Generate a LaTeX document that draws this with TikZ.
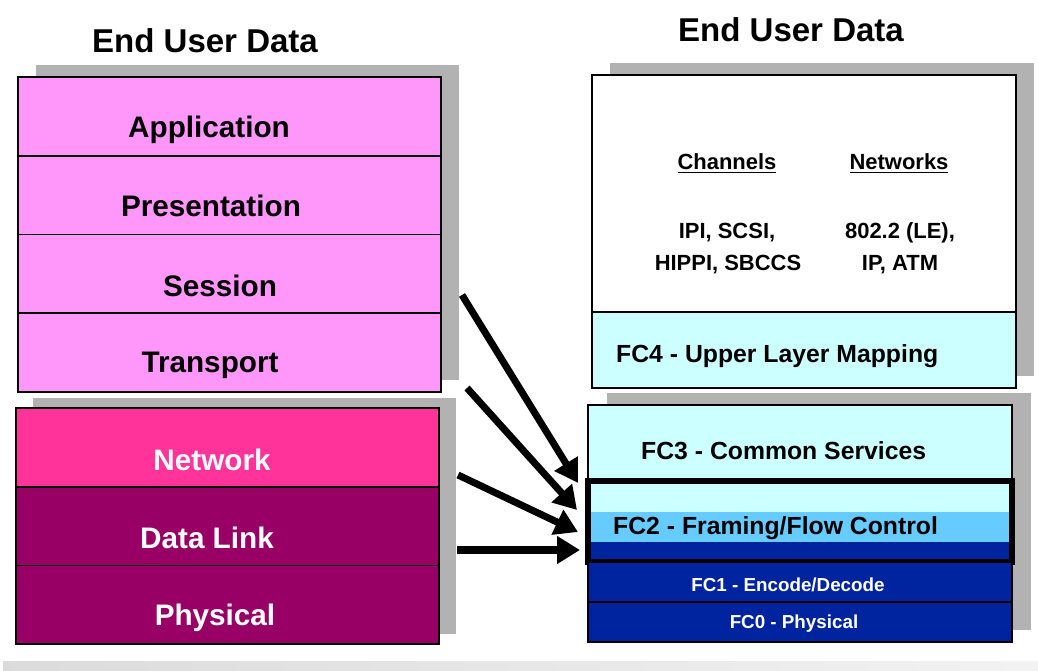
\documentclass[tikz,border=0pt]{standalone}
\usepackage{fontspec}
\setmainfont{Liberation Sans}
\usetikzlibrary{positioning,arrows.meta,backgrounds}

\definecolor{osipink}{RGB}{255,150,250}
\definecolor{netpink}{RGB}{255,51,153}
\definecolor{osiplum}{RGB}{153,0,102}
\definecolor{fccyan}{RGB}{204,255,255}
\definecolor{fcsky}{RGB}{102,204,255}
\definecolor{fcnavy}{RGB}{0,36,160}
\definecolor{shadowgrey}{RGB}{178,178,178}

\tikzset{
  layer/.style={draw, line width=1pt, fill=#1, inner sep=0pt, outer sep=0pt},
  osibox/.style={layer=#1, minimum width=8.46cm, minimum height=1.575cm},
  fcbox/.style={layer=#1, minimum width=8.48cm},
  title/.style={anchor=base, font=\fontsize{18.8}{22}\selectfont\bfseries},
  ositxt/.style={anchor=base, font=\fontsize{16.9}{20}\selectfont\bfseries},
  fctxt/.style={anchor=base west, font=\fontsize{14.1}{17}\selectfont\bfseries},
  fcsmall/.style={anchor=base, text=white, font=\fontsize{10.7}{13}\selectfont\bfseries},
  ulptxt/.style={anchor=base, font=\fontsize{12.5}{15}\selectfont\bfseries},
  fat/.style={line width=4pt, -{Triangle[length=13pt,width=15pt]}},
}

\begin{document}
\begin{tikzpicture}[x=0.02cm, y=-0.02cm]
  \useasboundingbox (0,0) rectangle (1038,671);

  % titles
  \node[title] (ltitle) at (205,53) {End User Data};
  \node[title] (rtitle) at (791,42) {End User Data};

  % OSI upper layers
  \node[osibox=osipink, anchor=north west] (app) at (18,77) {};
  \node[osibox=osipink, below=0pt of app] (pres) {};
  \node[osibox=osipink, below=0pt of pres] (sess) {};
  \node[osibox=osipink, below=0pt of sess] (trans) {};

  % OSI lower layers
  \node[osibox=netpink, anchor=north west] (net) at (16,408) {};
  \node[osibox=osiplum, below=0pt of net] (dlink) {};
  \node[osibox=osiplum, below=0pt of dlink] (phys) {};

  \node[ositxt] (appt) at (209,138) {Application};
  \node[ositxt] (prest) at (211,217) {Presentation};
  \node[ositxt] (sesst) at (220,297) {Session};
  \node[ositxt] (transt) at (210,373) {Transport};
  \node[ositxt, text=white] (nett) at (212,471) {Network};
  \node[ositxt, text=white] (dlinkt) at (207,549) {Data Link};
  \node[ositxt, text=white] (physt) at (215,626) {Physical};

  % Fibre Channel levels
  \node[fcbox=white, minimum height=4.74cm, anchor=north west] (ulp) at (592,75) {};
  \node[fcbox=fccyan, minimum height=1.52cm, below=0pt of ulp] (fc4) {};

  \node[fcbox=fccyan, minimum height=1.52cm, anchor=north west] (fc3) at (588,405) {};
  \node[fcbox=fccyan, line width=3.6pt, minimum height=1.62cm, below=0pt of fc3,
        path picture={
          \fill[fcsky] ([yshift=0.4cm]path picture bounding box.south west)
            rectangle ([yshift=1cm]path picture bounding box.south east);
          \fill[fcnavy] (path picture bounding box.south west)
            rectangle ([yshift=0.4cm]path picture bounding box.south east);
        }] (fc2) {};
  \node[fcbox=fcnavy, minimum height=0.8cm, below=0pt of fc2] (fc1) {};
  \node[fcbox=fcnavy, minimum height=0.8cm, below=0pt of fc1] (fc0) {};

  \node[ulptxt] (chan) at (727,170) {\underline{Channels}};
  \node[ulptxt] (nets) at (899,170) {\underline{Networks}};
  \node[ulptxt] (chana) at (727,239) {IPI, SCSI,};
  \node[ulptxt] (chanb) at (728,271) {HIPPI, SBCCS};
  \node[ulptxt] (netsa) at (900,239) {802.2 (LE),};
  \node[ulptxt] (netsb) at (900,271) {IP, ATM};

  \node[fctxt] (fc4t) at (610,363) {FC4 - Upper Layer Mapping};
  \node[fctxt] (fc3t) at (635,460) {FC3 - Common Services};
  \node[fctxt] (fc2t) at (607,535) {FC2 - Framing/Flow Control};
  \node[fcsmall] (fc1t) at (788,592) {FC1 - Encode/Decode};
  \node[fcsmall] (fc0t) at (794,629) {FC0 - Physical};

  % shadows
  \begin{scope}[on background layer]
    \fill[shadowgrey] ([shift={(18,-12)}]app.north west) rectangle ([shift={(18,-12)}]trans.south east);
    \fill[shadowgrey] ([shift={(17,-10)}]net.north west) rectangle ([shift={(17,-10)}]phys.south east);
    \fill[shadowgrey] ([shift={(18,-12)}]ulp.north west) rectangle ([shift={(18,-12)}]fc4.south east);
    \fill[shadowgrey] ([shift={(19,-12)}]fc3.north west) rectangle ([shift={(19,-12)}]fc0.south east);
    \fill[left color=black!14, right color=black!5] (3,662) rectangle (1038,671);
  \end{scope}

  % mapping arrows
  \coordinate (s1) at (462,295);
  \coordinate (s2) at (467,388);
  \coordinate (s3) at (458,475);
  \coordinate (s4) at (457,550);
  \coordinate (e1) at (578,483);
  \coordinate (e2) at (577,510);
  \coordinate (e3) at (578,532);
  \coordinate (e4) at (580,550);
  \draw[fat] (s1) -- (e1);
  \draw[fat] (s2) -- (e2);
  \draw[fat] (s3) -- (e3);
  \draw[fat] (s4) -- (e4);
\end{tikzpicture}
\end{document}
